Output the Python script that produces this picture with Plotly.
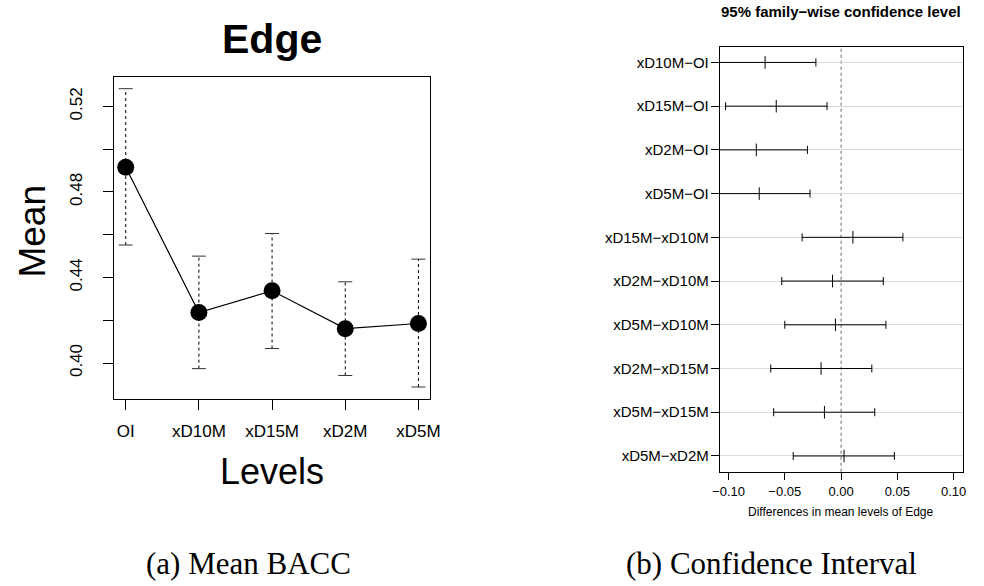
import plotly.graph_objects as go

# ---------------- data ----------------
levels = ["OI", "xD10M", "xD15M", "xD2M", "xD5M"]
means = [0.4916, 0.4236, 0.4338, 0.4161, 0.4185]
upper = [0.5283, 0.4500, 0.4606, 0.4380, 0.4486]
lower = [0.4552, 0.3974, 0.4068, 0.3942, 0.3888]

y_tick_vals = [0.40, 0.42, 0.44, 0.46, 0.48, 0.50, 0.52]
y_tick_text = ["0.40", "", "0.44", "", "0.48", "", "0.52"]

comparisons = ["xD10M\u2212OI", "xD15M\u2212OI", "xD2M\u2212OI", "xD5M\u2212OI",
               "xD15M\u2212xD10M", "xD2M\u2212xD10M", "xD5M\u2212xD10M",
               "xD2M\u2212xD15M", "xD5M\u2212xD15M", "xD5M\u2212xD2M"]
diff = [-0.0675, -0.0576, -0.0753, -0.0727, 0.0105, -0.0076, -0.0050, -0.0178, -0.0148, 0.0026]
lwr = [-0.1126, -0.1026, -0.1207, -0.1180, -0.0346, -0.0527, -0.0500, -0.0625, -0.0599, -0.0425]
upr = [-0.0224, -0.0125, -0.0299, -0.0276, 0.0549, 0.0375, 0.0398, 0.0273, 0.0299, 0.0473]
diff_ticks = [-0.10, -0.05, 0.00, 0.05, 0.10]

# ---------------- layout helpers ----------------
W, H = 984, 586
def px(x):
    return x / W
def py(y):
    return 1 - y / H

SANS = "Liberation Sans, Arial, Helvetica, sans-serif"
SERIF = "Liberation Serif, Times New Roman, serif"

fig = go.Figure()

# ---- left panel: means with dotted error bars ----
xs = list(range(1, len(levels) + 1))
ex, ey = [], []
for i, lo, hi in zip(xs, lower, upper):
    ex += [i, i, None]
    ey += [lo, hi, None]
fig.add_trace(go.Scatter(x=ex, y=ey, mode="lines", xaxis="x", yaxis="y",
                         line=dict(color="black", width=1, dash="dot"),
                         hoverinfo="skip", showlegend=False))
fig.add_trace(go.Scatter(x=xs + xs, y=upper + lower, mode="markers", xaxis="x", yaxis="y",
                         marker=dict(symbol="line-ew", size=10, color="black",
                                     line=dict(color="#333333", width=1)),
                         hoverinfo="skip", showlegend=False))
fig.add_trace(go.Scatter(x=xs, y=means, mode="lines+markers", xaxis="x", yaxis="y",
                         line=dict(color="black", width=1.2),
                         marker=dict(size=17, color="black"),
                         showlegend=False))

# ---- right panel: Tukey HSD intervals ----
rows = list(range(len(comparisons), 0, -1))
fig.add_trace(go.Scatter(
    x=diff, y=rows, mode="markers", xaxis="x2", yaxis="y2",
    marker=dict(symbol="line-ns", size=9, color="black", line=dict(color="black", width=1)),
    error_x=dict(type="data", symmetric=False,
                 array=[u - d for u, d in zip(upr, diff)],
                 arrayminus=[d - l for d, l in zip(diff, lwr)],
                 color="black", thickness=1, width=4),
    showlegend=False))

fig.add_shape(type="line", xref="x2", yref="y2 domain", x0=0, x1=0, y0=0, y1=1,
              line=dict(color="#666666", width=1, dash="dot"), layer="below")

axis_common = dict(showline=True, linecolor="black", linewidth=1, mirror=True,
                   ticks="outside", tickcolor="black", zeroline=False)

fig.update_layout(
    width=W, height=H,
    margin=dict(l=0, r=0, t=0, b=0),
    paper_bgcolor="white", plot_bgcolor="white",
    font=dict(family=SANS, color="black"),
    xaxis=dict(domain=[px(108), px(430)], anchor="y", range=[0.84, 5.16],
               tickmode="array", tickvals=xs, ticktext=levels,
               ticklen=10, tickfont=dict(size=17), showgrid=False,
               ticklabelstandoff=7, **axis_common),
    yaxis=dict(domain=[py(399), py(76.7)], anchor="x", range=[0.3832, 0.5339],
               tickmode="array", tickvals=y_tick_vals, ticktext=y_tick_text,
               tickangle=-90, ticklen=10, tickfont=dict(size=17), showgrid=False,
               ticklabelstandoff=14, **axis_common),
    xaxis2=dict(domain=[px(725), px(972.7)], anchor="y2", range=[-0.1078, 0.1082],
                tickmode="array", tickvals=diff_ticks, tickformat=".2f",
                ticklen=7, tickfont=dict(size=13), showgrid=False,
                ticklabelstandoff=1, **axis_common),
    yaxis2=dict(domain=[py(471.7), py(46.7)], anchor="x2", range=[0.64, 10.36],
                tickmode="array", tickvals=rows, ticktext=comparisons,
                ticklen=8, tickfont=dict(size=15), showgrid=True,
                gridcolor="#d9d9d9", gridwidth=1,
                ticklabelstandoff=-1, **axis_common),
)

ann = [
    dict(text="<b>Edge</b>", x=px(269), y=py(39), font=dict(size=41)),
    dict(text="Levels", x=px(269), y=py(471), font=dict(size=36)),
    dict(text="Mean", x=px(24), y=py(231), font=dict(size=37), textangle=-90),
    dict(text="<b>95% family\u2212wise confidence level</b>", x=px(849), y=py(12), font=dict(size=15)),
    dict(text="Differences in mean levels of Edge", x=px(849), y=py(512), font=dict(size=12)),
    dict(text="(a) Mean BACC", x=px(245), y=py(563), font=dict(size=31, family=SERIF)),
    dict(text="(b) Confidence Interval", x=px(778), y=py(563), font=dict(size=31, family=SERIF)),
]
for a in ann:
    fig.add_annotation(xref="paper", yref="paper", showarrow=False,
                       xanchor="center", yanchor="middle", **a)

fig.write_html("out.html")
